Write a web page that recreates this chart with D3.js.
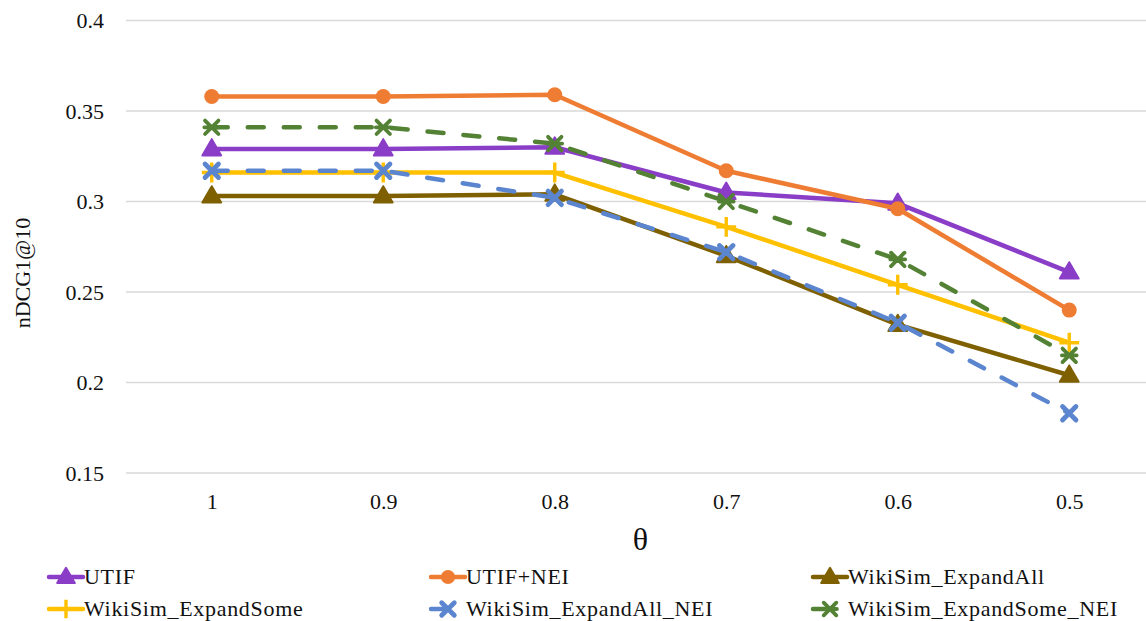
<!DOCTYPE html>
<html>
<head>
<meta charset="utf-8">
<script src="https://cdn.jsdelivr.net/npm/d3@7"></script>
<style>
  html, body { margin: 0; padding: 0; background: #fff; }
  svg { display: block; }
  text { font-family: "Liberation Serif", "DejaVu Serif", serif; fill: #111; }
</style>
</head>
<body>
<svg id="chart" width="1146" height="621"></svg>
<script>
// Threshold values on the x axis
const thetas = ["1", "0.9", "0.8", "0.7", "0.6", "0.5"];
const yTicks = [0.15, 0.2, 0.25, 0.3, 0.35, 0.4];

// nDCG1@10 per method
const utif            = [0.329, 0.329, 0.330, 0.305, 0.299, 0.261];
const utifNei         = [0.358, 0.358, 0.359, 0.317, 0.296, 0.240];
const expandAll       = [0.303, 0.303, 0.304, 0.270, 0.232, 0.204];
const expandSome      = [0.316, 0.316, 0.316, 0.286, 0.254, 0.222];
const expandAllNei    = [0.317, 0.317, 0.302, 0.272, 0.233, 0.183];
const expandSomeNei   = [0.341, 0.341, 0.332, 0.300, 0.268, 0.215];

const seriesNames = ["UTIF", "UTIF+NEI", "WikiSim_ExpandAll", "WikiSim_ExpandSome", "WikiSim_ExpandAll_NEI", "WikiSim_ExpandSome_NEI"];
const seriesValues = [utif, utifNei, expandAll, expandSome, expandAllNei, expandSomeNei];
const seriesColors = ["#8a3dc6", "#ee7d33", "#7f6000", "#ffc000", "#5b86cf", "#548235"];
const seriesMarkers = ["triangle", "circle", "triangle", "plus", "cross", "asterisk"];
const seriesDashed = [false, false, false, false, true, true];

const series = seriesNames.map((name, i) => ({
  name, values: seriesValues[i], color: seriesColors[i],
  marker: seriesMarkers[i], dashed: seriesDashed[i]
}));

const svg = d3.select("#chart");
const plot = { left: 126, right: 1155, top: 20.5, bottom: 473 };

const x = d3.scalePoint().domain(thetas).range([plot.left, plot.right]).padding(0.5);
const y = d3.scaleLinear().domain([0.15, 0.4]).range([plot.bottom, plot.top]);

// Horizontal gridlines
svg.append("g")
  .selectAll("line")
  .data(yTicks)
  .join("line")
  .attr("x1", plot.left).attr("x2", plot.right)
  .attr("y1", d => y(d)).attr("y2", d => y(d))
  .attr("stroke", "#d9d9d9").attr("stroke-width", 1.3);

// Y axis labels
const yAxis = d3.axisLeft(y).tickValues(yTicks).tickSize(0).tickPadding(0)
  .tickFormat(d => String(+d.toFixed(2)));
const gy = svg.append("g").attr("transform", `translate(104,0)`).call(yAxis);
gy.select(".domain").remove();
gy.selectAll("text").attr("font-size", 22).attr("font-family", "Liberation Serif").attr("fill", "#111").attr("dy", "0.33em");

// X axis labels
const xAxis = d3.axisBottom(x).tickSize(0).tickPadding(0);
const gx = svg.append("g").attr("transform", `translate(0,499)`).call(xAxis);
gx.select(".domain").remove();
gx.selectAll("text").attr("font-size", 22).attr("font-family", "Liberation Serif").attr("fill", "#111").attr("dy", "0.45em");

// Axis titles
svg.append("text")
  .attr("x", (plot.left + plot.right) / 2).attr("y", 550)
  .attr("text-anchor", "middle").attr("font-size", 32)
  .text("θ");
svg.append("text")
  .attr("transform", "translate(30,273) rotate(-90)")
  .attr("text-anchor", "middle").attr("font-size", 22)
  .text("nDCG1@10");

// Marker shapes
function drawMarker(g, type, color, cx, cy, s) {
  if (type === "triangle") {
    g.append("path")
      .attr("d", d3.symbol(d3.symbolTriangle, s * s * 0.6)())
      .attr("transform", `translate(${cx},${cy + 1})`)
      .attr("fill", color).attr("stroke", color).attr("stroke-width", 2).attr("stroke-linejoin", "round");
  } else if (type === "circle") {
    g.append("circle").attr("cx", cx).attr("cy", cy).attr("r", s * 0.47)
      .attr("fill", color);
  } else if (type === "plus") {
    const h = s * 0.62;
    g.append("path").attr("d", `M${cx - h},${cy}H${cx + h}M${cx},${cy - h}V${cy + h}`)
      .attr("stroke", color).attr("stroke-width", 3.4).attr("fill", "none");
  } else if (type === "cross") {
    const h = s * 0.42;
    g.append("path").attr("d", `M${cx - h},${cy - h}L${cx + h},${cy + h}M${cx - h},${cy + h}L${cx + h},${cy - h}`)
      .attr("stroke", color).attr("stroke-width", 4.8).attr("stroke-linecap", "round").attr("fill", "none");
  } else if (type === "asterisk") {
    const h = s * 0.42;
    g.append("path").attr("d", `M${cx - h},${cy - h}L${cx + h},${cy + h}M${cx - h},${cy + h}L${cx + h},${cy - h}M${cx - h * 1.1},${cy}H${cx + h * 1.1}`)
      .attr("stroke", color).attr("stroke-width", 3.8).attr("stroke-linecap", "round").attr("fill", "none");
  }
}

const line = d3.line().x((d, i) => x(thetas[i])).y(d => y(d));

// Series lines and markers (drawn in legend order)
series.forEach(s => {
  const g = svg.append("g");
  g.append("path")
    .datum(s.values)
    .attr("d", line)
    .attr("fill", "none")
    .attr("stroke", s.color)
    .attr("stroke-width", 4.5)
    .attr("stroke-linejoin", "round")
    .attr("stroke-linecap", "round")
    .attr("stroke-dasharray", s.dashed ? "16,20" : null);
  s.values.forEach((v, i) => drawMarker(g, s.marker, s.color, x(thetas[i]), y(v), 16));
});

// Legend
const legendCols = [49, 431, 813];
const legendRows = [577, 609];
series.forEach((s, i) => {
  const lx = legendCols[i % 3];
  const ly = legendRows[Math.floor(i / 3)];
  const g = svg.append("g");
  g.append("line")
    .attr("x1", lx).attr("x2", lx + 34).attr("y1", ly).attr("y2", ly)
    .attr("stroke", s.color).attr("stroke-width", 4.5)
    .attr("stroke-linecap", "round")
    .attr("stroke-dasharray", s.dashed ? "12,50" : null);
  drawMarker(g, s.marker, s.color, lx + 17, ly, 15);
  g.append("text")
    .attr("x", lx + 35).attr("y", ly).attr("dy", "0.33em")
    .attr("font-size", 22).attr("letter-spacing", 0.7)
    .text(s.name);
});
</script>
</body>
</html>
